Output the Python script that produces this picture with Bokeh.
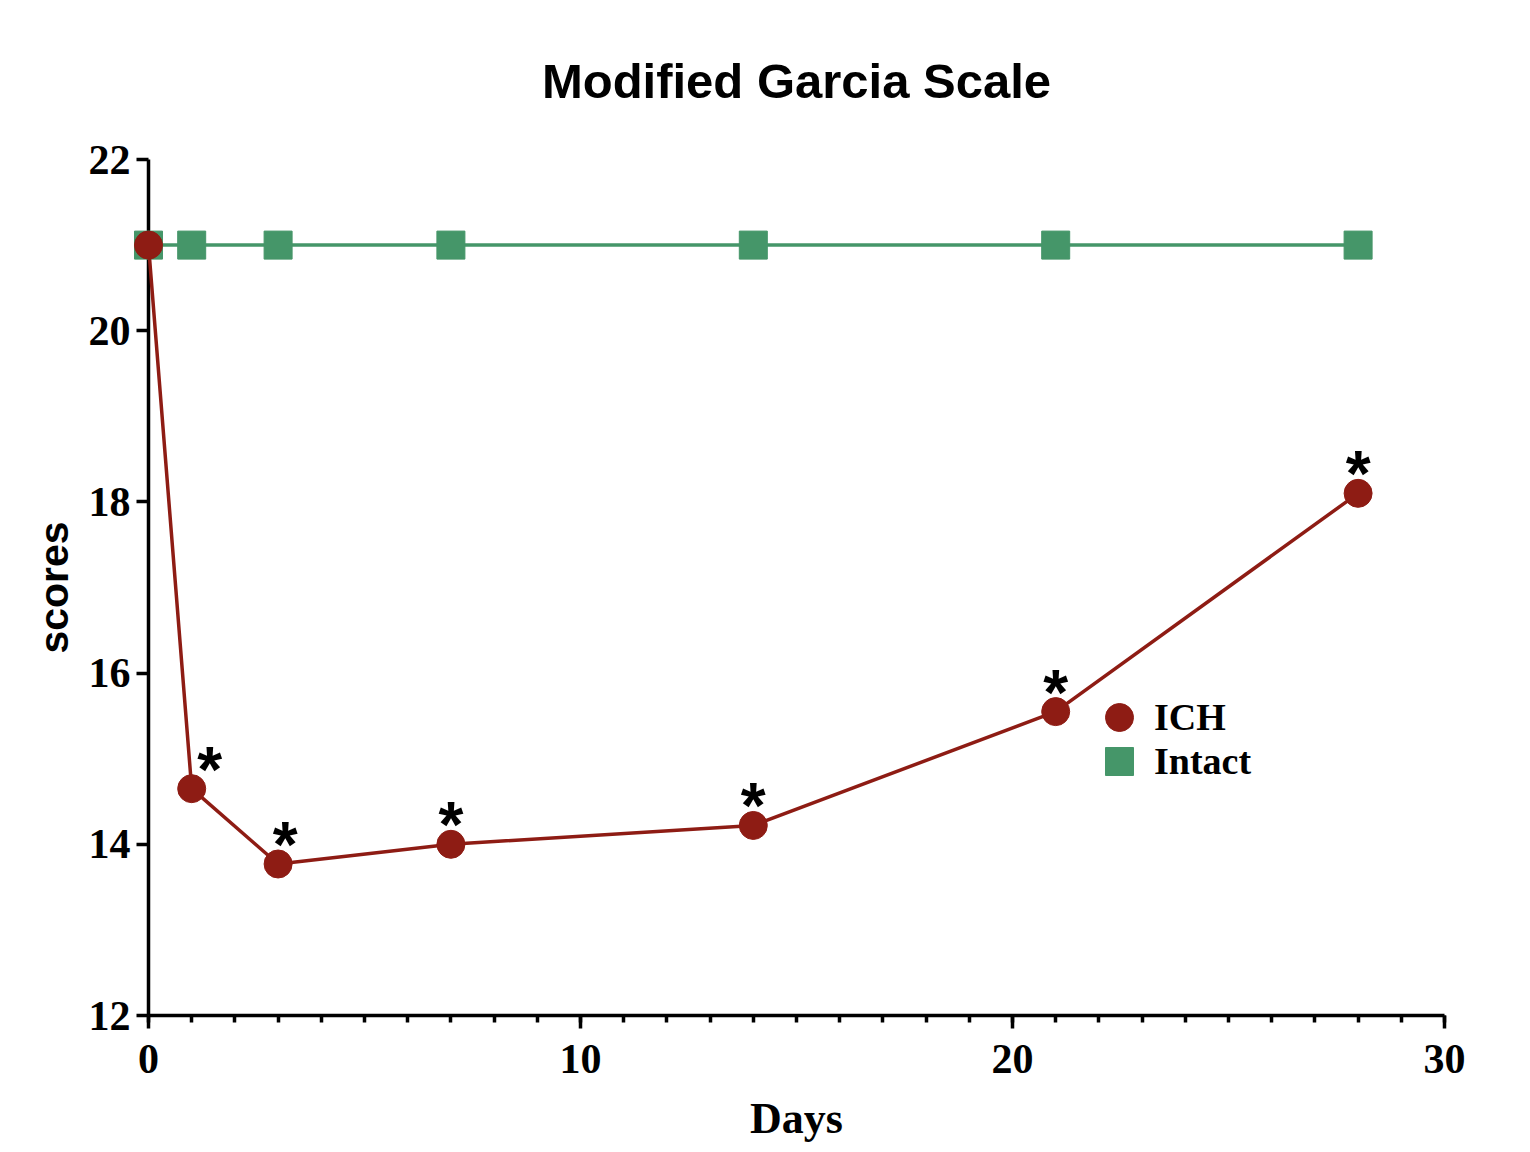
from bokeh.plotting import figure
from bokeh.models import (ColumnDataSource, Range1d, SingleIntervalTicker, Legend, LegendItem)
from bokeh.core.properties import value
from bokeh.embed import file_html
from bokeh.resources import INLINE

# ---- data ----
days = [0, 1, 3, 7, 14, 21, 28]
ich_scores = [21.0, 14.65, 13.77, 14.0, 14.22, 15.55, 18.1]
intact_scores = [21.0, 21.0, 21.0, 21.0, 21.0, 21.0, 21.0]
significant = [False, True, True, True, True, True, True]
series_names = ["ICH", "Intact"]
title_text = "Modified Garcia Scale"
x_label = "Days"
y_label = "scores"

# ---- styles ----
RED = "#8e1c14"
GREEN = "#459669"
SERIF = "Liberation Serif"
SANS = "Liberation Sans"
star_dx = [18, 7, 0, 0, 0, 0]  # pixel nudges for asterisks

p = figure(frame_width=1296, frame_height=856,
           x_range=Range1d(0, 30), y_range=Range1d(12, 22),
           min_border_left=148, min_border_right=70, min_border_top=159,
           min_border_bottom=120, output_backend="svg", toolbar_location=None,
           title=title_text)
p.background_fill_color = "white"
p.border_fill_color = "white"
p.outline_line_color = None
p.grid.visible = False

p.title.text_font = SANS
p.title.text_font_size = "49px"
p.title.text_font_style = "bold"
p.title.align = "center"
p.title.text_color = "black"
p.title.standoff = 103

src_int = ColumnDataSource(dict(x=days, y=intact_scores))
src_ich = ColumnDataSource(dict(x=days, y=ich_scores))

p.line("x", "y", source=src_int, color=GREEN, line_width=3.5, level="overlay")
r_int = p.scatter("x", "y", source=src_int, marker="square", size=28,
                  fill_color=GREEN, line_color=GREEN, line_width=1, level="overlay")
p.line("x", "y", source=src_ich, color=RED, line_width=3.5, level="overlay")
r_ich = p.scatter("x", "y", source=src_ich, marker="circle", size=28,
                  fill_color=RED, line_color=RED, line_width=1, level="overlay")

sx = [d for d, s in zip(days, significant) if s]
sy = [v for v, s in zip(ich_scores, significant) if s]
src_star = ColumnDataSource(dict(x=sx, y=sy, t=["*"] * len(sx), dx=star_dx))
p.text("x", "y", text="t", source=src_star, x_offset="dx", y_offset=-19,
       text_align="center", text_baseline="alphabetic",
       text_font=value(SANS), text_font_style="bold", text_font_size="64px",
       text_color="black", level="overlay")

# axes
xa = p.xaxis[0]
xa.ticker = SingleIntervalTicker(interval=10, num_minor_ticks=10)
ya = p.yaxis[0]
ya.ticker = SingleIntervalTicker(interval=2, num_minor_ticks=0)

for ax in (xa, ya):
    ax.axis_line_width = 3.5
    ax.axis_line_color = "black"
    ax.major_tick_line_width = 3.5
    ax.minor_tick_line_width = 3.5
    ax.major_tick_in = 0
    ax.major_tick_out = 13
    ax.minor_tick_in = 0
    ax.minor_tick_out = 7
    ax.major_label_text_font = SERIF
    ax.major_label_text_font_style = "bold"
    ax.major_label_text_font_size = "42px"
    ax.major_label_text_color = "black"
    ax.axis_label_text_color = "black"
    ax.axis_label_text_font_style = "bold"

ya.minor_tick_out = 0
ya.major_tick_out = 12
ya.major_label_standoff = 6
xa.major_label_standoff = 16

xa.axis_label = x_label
xa.axis_label_text_font = SERIF
xa.axis_label_text_font_size = "44px"
xa.axis_label_standoff = 18

ya.axis_label = y_label
ya.axis_label_text_font = SANS
ya.axis_label_text_font_size = "41px"
ya.axis_label_standoff = 9

legend_style = dict(glyph_width=70, glyph_height=70, spacing=0, padding=0, margin=0,
                    label_standoff=0, label_text_font=SERIF, label_text_font_style="bold",
                    label_text_font_size="38px", label_text_color="black",
                    border_line_color=None, background_fill_alpha=0)
leg1 = Legend(items=[LegendItem(label=series_names[0], renderers=[r_ich])],
              location=(936, 263), **legend_style)
leg2 = Legend(items=[LegendItem(label=series_names[1], renderers=[r_int])],
              location=(936, 219), **legend_style)
p.add_layout(leg1)
p.add_layout(leg2)

open("out.html", "w").write(file_html(p, INLINE))
